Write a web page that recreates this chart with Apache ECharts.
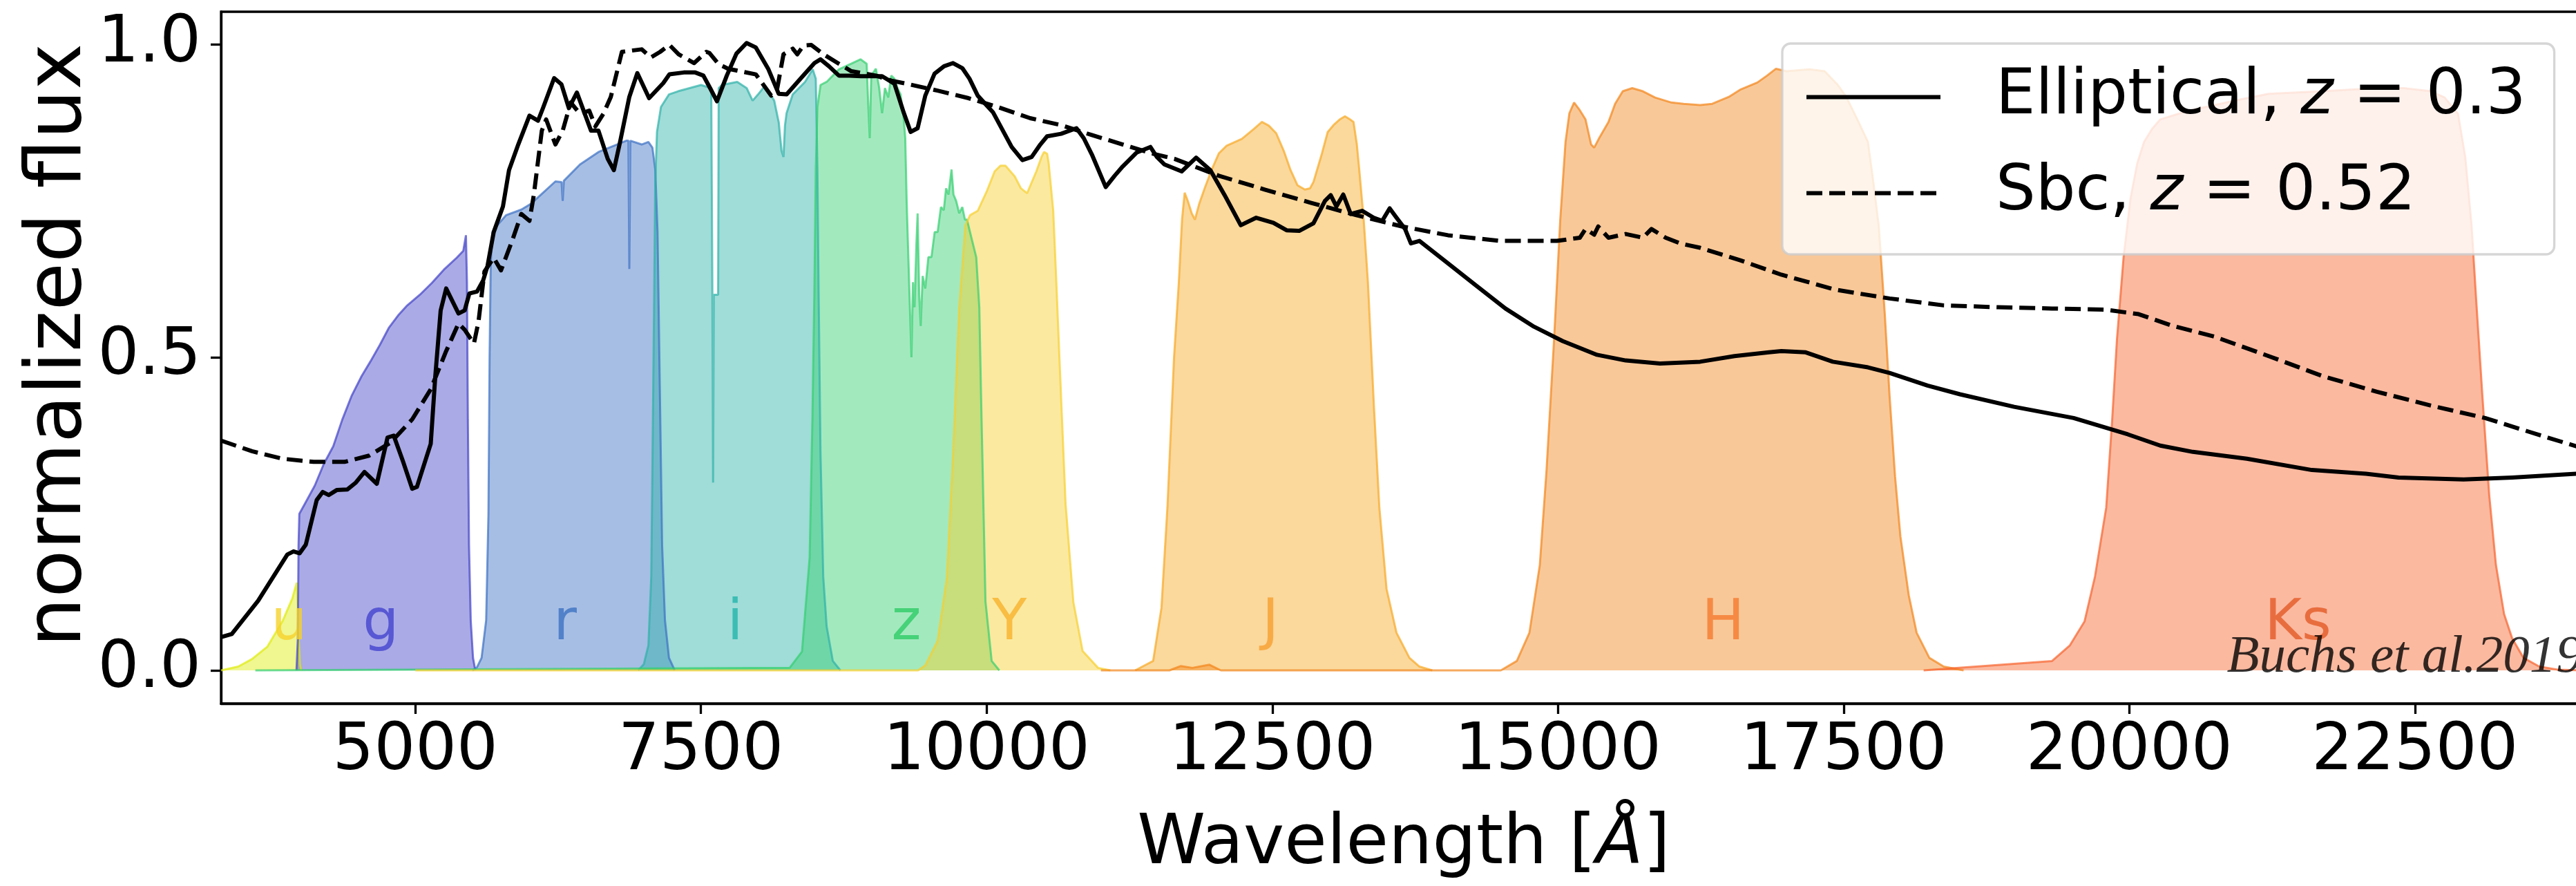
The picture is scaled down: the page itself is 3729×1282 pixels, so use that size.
<!DOCTYPE html>
<html lang="en">
<head>
<meta charset="utf-8">
<title>Filter transmission curves and galaxy templates</title>
<script src="https://cdn.jsdelivr.net/npm/echarts@6.0.0/dist/echarts.min.js"></script>
<style>
html, body { margin: 0; padding: 0; background: #fff; }
#chart { width: 3729px; height: 1282px; }
</style>
</head>
<body>
<div id="chart"></div>
<script>
// [wavelength in Angstrom, value]
const uCurve = [[3300,0],[3450,0.006],[3571,0.018],[3706,0.038],[3839,0.079],[3924,0.115],[3962,0.140],[3972,0.10],[3980,0.05],[3990,0.01],[4000,0]];
const gCurve = [[3960,0],[3972,0.05],[3978,0.2],[3985,0.25],[4030,0.265],[4120,0.295],[4200,0.33],[4282,0.358],[4360,0.40],[4444,0.439],[4530,0.47],[4606,0.493],[4690,0.52],[4768,0.547],[4850,0.567],[4930,0.583],[5040,0.60],[5146,0.619],[5250,0.64],[5362,0.659],[5420,0.67],[5443,0.695],[5452,0.62],[5460,0.4],[5470,0.2],[5485,0.08],[5505,0.02],[5525,0]];
const rCurve = [[5500,0],[5540,0.005],[5580,0.02],[5620,0.08],[5640,0.25],[5650,0.5],[5660,0.65],[5675,0.70],[5713,0.71],[5794,0.727],[5928,0.736],[6010,0.745],[6100,0.76],[6226,0.781],[6280,0.78],[6290,0.75],[6300,0.782],[6441,0.808],[6603,0.828],[6765,0.840],[6846,0.846],[6865,0.846],[6873,0.641],[6882,0.846],[6981,0.840],[7040,0.844],[7075,0.835],[7100,0.80],[7120,0.70],[7140,0.45],[7160,0.2],[7185,0.08],[7220,0.02],[7270,0]];
const iCurve = [[6950,0],[7000,0.01],[7040,0.04],[7065,0.15],[7085,0.5],[7100,0.78],[7115,0.86],[7150,0.90],[7220,0.92],[7300,0.925],[7400,0.93],[7500,0.935],[7590,0.93],[7600,0.6],[7606,0.30],[7612,0.6],[7622,0.6],[7650,0.6],[7655,0.93],[7682,0.935],[7817,0.94],[7900,0.93],[7952,0.91],[8000,0.92],[8060,0.934],[8141,0.91],[8181,0.875],[8205,0.83],[8222,0.82],[8235,0.87],[8249,0.89],[8303,0.92],[8411,0.94],[8478,0.96],[8505,0.945],[8519,0.80],[8530,0.6],[8546,0.35],[8570,0.15],[8600,0.07],[8654,0.015],[8720,0]];
const zCurve = [[3600,0],[8276,0.004],[8384,0.03],[8451,0.18],[8475,0.4],[8492,0.6],[8505,0.8],[8519,0.9],[8546,0.935],[8600,0.94],[8707,0.96],[8815,0.969],[8896,0.976],[8950,0.969],[8965,0.90],[8977,0.85],[8990,0.95],[9031,0.961],[9060,0.93],[9085,0.89],[9110,0.93],[9139,0.915],[9165,0.95],[9193,0.945],[9220,0.93],[9247,0.92],[9275,0.88],[9288,0.85],[9300,0.75],[9315,0.66],[9342,0.50],[9355,0.62],[9369,0.58],[9385,0.68],[9396,0.73],[9410,0.60],[9423,0.55],[9440,0.63],[9463,0.61],[9490,0.66],[9517,0.66],[9545,0.70],[9571,0.70],[9600,0.74],[9625,0.735],[9645,0.77],[9666,0.76],[9693,0.80],[9710,0.76],[9733,0.75],[9760,0.73],[9787,0.74],[9810,0.72],[9828,0.72],[9868,0.69],[9909,0.66],[9936,0.58],[9950,0.45],[9963,0.34],[9990,0.11],[10044,0.015],[10111,0]];
const yCurve = [[5000,0],[9400,0],[9463,0.008],[9571,0.047],[9652,0.148],[9706,0.344],[9760,0.578],[9814,0.711],[9855,0.727],[9922,0.734],[10003,0.766],[10070,0.797],[10120,0.806],[10165,0.806],[10246,0.789],[10300,0.770],[10354,0.762],[10435,0.797],[10480,0.82],[10502,0.828],[10530,0.825],[10543,0.81],[10583,0.734],[10610,0.62],[10637,0.5],[10691,0.266],[10759,0.109],[10840,0.031],[10975,0.004],[11083,0]];
const jCurve = [[11300,0],[11457,0.015],[11530,0.10],[11582,0.26],[11640,0.5],[11682,0.62],[11710,0.72],[11733,0.763],[11760,0.75],[11795,0.73],[11823,0.72],[11860,0.745],[11908,0.77],[11970,0.80],[12033,0.826],[12100,0.838],[12234,0.849],[12340,0.865],[12409,0.876],[12470,0.87],[12534,0.858],[12600,0.83],[12660,0.799],[12720,0.775],[12785,0.768],[12830,0.77],[12860,0.78],[12935,0.826],[12985,0.86],[13036,0.871],[13090,0.88],[13136,0.885],[13180,0.88],[13211,0.876],[13240,0.84],[13261,0.80],[13300,0.72],[13337,0.62],[13390,0.42],[13437,0.26],[13500,0.13],[13587,0.06],[13700,0.02],[13788,0.006],[13900,0]];
const hCurve = [[11000,0],[11600,0],[11700,0.007],[11800,0.004],[11950,0.009],[12050,0],[14500,0],[14640,0.015],[14750,0.06],[14841,0.168],[14900,0.32],[14966,0.529],[15020,0.72],[15066,0.844],[15100,0.89],[15141,0.907],[15190,0.895],[15241,0.88],[15290,0.84],[15317,0.835],[15360,0.85],[15442,0.876],[15500,0.905],[15567,0.925],[15650,0.93],[15743,0.925],[15850,0.915],[15993,0.907],[16100,0.905],[16244,0.903],[16350,0.905],[16495,0.916],[16600,0.928],[16745,0.939],[16830,0.95],[16908,0.961],[17000,0.957],[17200,0.96],[17334,0.957],[17450,0.935],[17523,0.916],[17620,0.88],[17713,0.844],[17760,0.78],[17808,0.709],[17860,0.57],[17902,0.439],[17950,0.31],[17997,0.214],[18070,0.12],[18139,0.06],[18250,0.02],[18376,0.006],[18550,0]];
const ksCurve = [[18200,0],[19324,0.015],[19480,0.04],[19608,0.078],[19700,0.15],[19798,0.26],[19850,0.4],[19892,0.529],[19950,0.66],[20011,0.754],[20070,0.81],[20129,0.844],[20200,0.865],[20271,0.88],[20500,0.893],[20745,0.903],[21000,0.913],[21219,0.921],[21693,0.925],[22167,0.93],[22400,0.93],[22640,0.925],[22760,0.915],[22877,0.889],[22940,0.82],[22996,0.709],[23040,0.58],[23090,0.439],[23150,0.28],[23209,0.168],[23280,0.09],[23351,0.051],[23450,0.02],[23588,0.006],[23750,0.001],[24000,0]];

const ellipticalFlux = [[3300,0.053],[3394,0.058],[3624,0.111],[3880,0.185],[3934,0.190],[3988,0.187],[4042,0.201],[4137,0.272],[4190,0.285],[4243,0.280],[4312,0.288],[4406,0.289],[4480,0.300],[4555,0.317],[4663,0.298],[4757,0.372],[4811,0.375],[4890,0.335],[4973,0.290],[5014,0.293],[5135,0.362],[5175,0.470],[5222,0.575],[5270,0.610],[5378,0.570],[5432,0.575],[5473,0.602],[5540,0.605],[5594,0.623],[5632,0.646],[5686,0.700],[5767,0.741],[5820,0.799],[5901,0.840],[5999,0.886],[6074,0.878],[6117,0.898],[6215,0.946],[6279,0.936],[6344,0.898],[6414,0.923],[6538,0.862],[6603,0.862],[6684,0.817],[6738,0.799],[6792,0.844],[6873,0.916],[6943,0.954],[7046,0.914],[7170,0.938],[7224,0.952],[7350,0.955],[7450,0.955],[7521,0.950],[7580,0.930],[7640,0.909],[7726,0.950],[7810,0.985],[7899,1.002],[7980,0.995],[8088,0.961],[8180,0.921],[8250,0.920],[8385,0.948],[8493,0.970],[8546,0.976],[8620,0.965],[8707,0.950],[8800,0.950],[8900,0.949],[9085,0.949],[9193,0.937],[9274,0.891],[9335,0.860],[9396,0.866],[9463,0.918],[9544,0.953],[9627,0.965],[9706,0.970],[9787,0.962],[9850,0.945],[9922,0.918],[10057,0.891],[10219,0.836],[10313,0.815],[10394,0.820],[10470,0.840],[10529,0.853],[10651,0.857],[10786,0.866],[10850,0.850],[10921,0.824],[11042,0.772],[11120,0.790],[11191,0.805],[11312,0.827],[11433,0.836],[11490,0.820],[11557,0.808],[11707,0.797],[11833,0.819],[11958,0.799],[12083,0.759],[12224,0.711],[12359,0.723],[12509,0.715],[12625,0.703],[12735,0.702],[12860,0.714],[12961,0.750],[13011,0.759],[13061,0.741],[13121,0.760],[13186,0.729],[13287,0.734],[13387,0.723],[13462,0.718],[13527,0.738],[13587,0.723],[13662,0.705],[13713,0.682],[13788,0.686],[14038,0.650],[14289,0.614],[14540,0.578],[14790,0.549],[15041,0.526],[15342,0.504],[15593,0.495],[15893,0.490],[16244,0.493],[16545,0.502],[16846,0.508],[16955,0.510],[17168,0.508],[17405,0.493],[17713,0.484],[17902,0.475],[18234,0.455],[18518,0.441],[18992,0.421],[19513,0.403],[19987,0.377],[20271,0.359],[20556,0.349],[21029,0.338],[21598,0.320],[22072,0.314],[22356,0.308],[22925,0.305],[23351,0.308],[23910,0.314],[24000,0.315]];
const sbcFlux = [[3300,0.367],[3571,0.350],[3840,0.338],[4110,0.333],[4380,0.333],[4596,0.343],[4785,0.364],[4973,0.401],[5135,0.449],[5270,0.510],[5378,0.554],[5432,0.544],[5513,0.522],[5553,0.557],[5605,0.637],[5686,0.659],[5750,0.639],[5847,0.686],[5928,0.729],[5999,0.718],[6037,0.759],[6107,0.862],[6145,0.880],[6226,0.840],[6290,0.862],[6360,0.907],[6441,0.889],[6522,0.894],[6576,0.869],[6646,0.889],[6711,0.916],[6808,0.988],[6981,0.992],[7062,0.979],[7143,0.988],[7224,0.999],[7305,0.984],[7440,0.970],[7547,0.988],[7575,0.986],[7656,0.968],[7737,0.961],[7845,0.957],[7980,0.952],[8115,0.918],[8168,0.930],[8222,0.984],[8303,0.993],[8343,0.984],[8397,0.998],[8466,0.999],[8573,0.984],[8707,0.969],[8816,0.957],[9031,0.950],[9166,0.942],[9301,0.937],[9571,0.926],[9841,0.914],[10111,0.899],[10381,0.882],[10651,0.871],[10921,0.855],[11191,0.840],[11461,0.825],[11644,0.817],[12033,0.790],[12434,0.768],[12835,0.747],[13236,0.727],[13637,0.709],[14038,0.695],[14490,0.686],[14991,0.686],[15191,0.691],[15241,0.705],[15317,0.696],[15352,0.709],[15442,0.691],[15593,0.697],[15743,0.691],[15818,0.705],[15943,0.691],[16069,0.682],[16244,0.675],[16595,0.655],[16955,0.632],[17429,0.608],[17902,0.594],[18376,0.583],[18850,0.580],[19324,0.578],[19798,0.576],[20082,0.569],[20366,0.551],[20745,0.533],[21219,0.502],[21693,0.470],[22167,0.445],[22640,0.423],[23114,0.403],[23588,0.376],[23910,0.358],[24000,0.353]];

const filterNames = ['u', 'g', 'r', 'i', 'z', 'Y', 'J', 'H', 'Ks'];
const filterCurves = [uCurve, gCurve, rCurve, iCurve, zCurve, yCurve, jCurve, hCurve, ksCurve];
const filterLabelX = [3895, 4698, 6312, 7798, 9297, 10200, 12484, 16445, 21476];
const filterLabelY = 0.073;
const templateNames = ['Elliptical', 'Sbc'];
const templateRedshifts = ['0.3', '0.52'];
const wavelengthTicks = [5000, 7500, 10000, 12500, 15000, 17500, 20000, 22500];
const fluxTicks = [0, 0.5, 1.0];
const creditText = 'Buchs et al.2019';
const creditPos = [20850, 0.02];

const filterColors = ['#deeb08', '#4242c7', '#3b6fc3', '#2cb1a8', '#33ce6f', '#f6ce2c', '#f6a823', '#f2851a', '#f6632c'];
const filterLabelColors = ['#f6d22a', '#4444d0', '#3c72c2', '#22b5ab', '#2ecc66', '#f8b12a', '#f8a030', '#f57a30', '#e35a25'];
const font = 'DejaVu Sans';

const chart = echarts.init(document.getElementById('chart'));

const series = filterNames.map(function (name, k) {
	return {
		name: name,
		type: 'line',
		data: filterCurves[k],
		symbol: 'none',
		silent: true,
		z: 1,
		lineStyle: {color: filterColors[k], width: 3, opacity: 0.7},
		areaStyle: {color: filterColors[k], opacity: 0.45}
	};
});

series.push({
	name: 'Elliptical',
	type: 'line',
	data: ellipticalFlux,
	symbol: 'none',
	z: 3,
	itemStyle: {color: '#000'},
	lineStyle: {color: '#000', width: 6, join: 'round'}
});
series.push({
	name: 'Sbc',
	type: 'line',
	data: sbcFlux,
	symbol: 'none',
	z: 3,
	itemStyle: {color: '#000'},
	lineStyle: {color: '#000', width: 6, type: [23, 10], join: 'round'}
});

series.push({
	type: 'scatter',
	symbolSize: 1,
	silent: true,
	z: 5,
	itemStyle: {color: 'rgba(0,0,0,0)'},
	data: filterNames.map(function (n, k) {
		return {value: [filterLabelX[k], filterLabelY, n], label: {color: filterLabelColors[k]}};
	}),
	label: {
		show: true,
		position: 'inside',
		formatter: function (p) { return p.value[2]; },
		fontSize: 82,
		fontFamily: font
	}
});

series.push({
	type: 'scatter',
	symbolSize: 1,
	silent: true,
	z: 6,
	itemStyle: {color: 'rgba(0,0,0,0)'},
	data: [{value: [creditPos[0], creditPos[1], creditText]}],
	label: {
		show: true,
		position: 'right',
		distance: 0,
		formatter: function (p) { return p.value[2]; },
		fontSize: 77,
		fontFamily: 'Liberation Serif',
		fontStyle: 'italic',
		color: '#000'
	}
});

chart.setOption({
	animation: false,
	backgroundColor: '#fff',
	grid: {
		left: 320, right: -15, top: 17, bottom: 264,
		show: true, borderColor: '#000', borderWidth: 3.3,
		backgroundColor: 'rgba(0,0,0,0)',
		containLabel: false, outerBoundsMode: 'none'
	},
	legend: {
		data: templateNames,
		left: 2580, top: 63,
		orient: 'vertical', align: 'left',
		itemWidth: 194, itemHeight: 20, itemGap: 48,
		padding: [32, 41, 43, 32],
		backgroundColor: 'rgba(255,255,255,0.8)',
		borderColor: 'rgba(204,204,204,0.8)', borderWidth: 3.3, borderRadius: 12,
		selectedMode: false,
		z: 10,
		itemStyle: {color: 'rgba(0,0,0,0)', borderColor: 'rgba(0,0,0,0)', borderWidth: 0},
		lineStyle: {width: 6, color: '#000'},
		formatter: function (name) {
			return '{t|' + name + ', }{m|z}{t| = ' + templateRedshifts[templateNames.indexOf(name)] + '}';
		},
		textStyle: {
			padding: [0, 0, 0, 75],
			rich: {
				t: {fontSize: 91, fontFamily: font, color: '#000', lineHeight: 93},
				m: {fontSize: 91, fontFamily: font, fontStyle: 'italic', color: '#000', lineHeight: 93}
			}
		}
	},
	xAxis: {
		type: 'value', min: 3300, max: 24000,
		axisLine: {show: true, onZero: false, lineStyle: {color: '#000', width: 3.3}},
		axisTick: {show: true, length: 15, customValues: wavelengthTicks, lineStyle: {color: '#000', width: 3.3}},
		axisLabel: {
			customValues: wavelengthTicks, margin: 24,
			fontSize: 94, fontFamily: font, color: '#000',
			formatter: function (v) { return String(v); }
		},
		splitLine: {show: false},
		name: 'Wavelength [{i|Å}]', nameLocation: 'middle', nameGap: 155, nameMoveOverlap: false,
		nameTextStyle: {
			fontSize: 100, fontFamily: font, color: '#000',
			rich: {i: {fontSize: 100, fontFamily: font, fontStyle: 'italic', color: '#000'}}
		}
	},
	yAxis: {
		type: 'value', min: -0.053, max: 1.052,
		axisLine: {show: true, onZero: false, lineStyle: {color: '#000', width: 3.3}},
		axisTick: {show: true, length: 15, customValues: fluxTicks, lineStyle: {color: '#000', width: 3.3}},
		axisLabel: {
			customValues: fluxTicks, margin: 29,
			fontSize: 94, fontFamily: font, color: '#000',
			formatter: function (v) { return v.toFixed(1); }
		},
		splitLine: {show: false},
		name: 'normalized flux', nameLocation: 'middle', nameGap: 177, nameRotate: 90, nameMoveOverlap: false,
		nameTextStyle: {fontSize: 113, fontFamily: font, color: '#000', padding: [0, 0, 0, 36]}
	},
	series: series
});
</script>
</body>
</html>
